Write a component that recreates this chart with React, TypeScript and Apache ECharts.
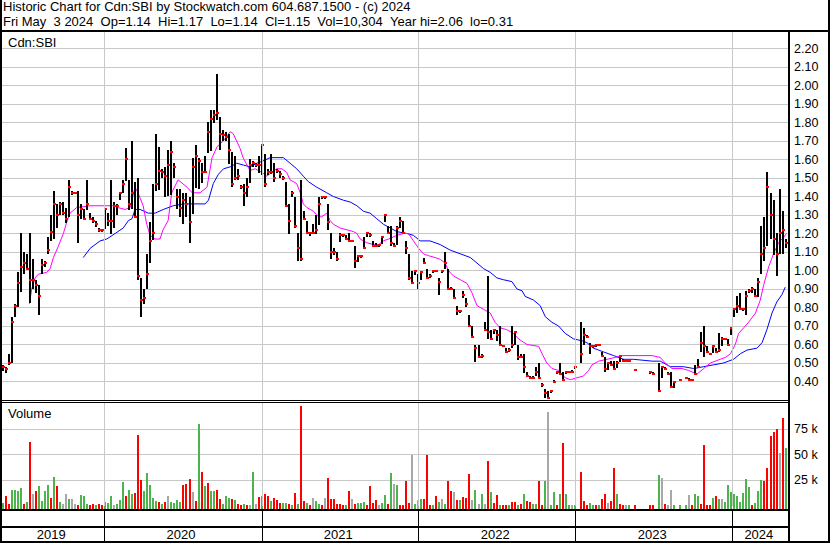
import React, { useEffect, useRef } from 'react';
import * as echarts from 'echarts';

const DAY = 86400000;
const FIRST_WEEK = Date.UTC(2019, 4, 10);
const X_MIN = Date.UTC(2019, 4, 8);
const X_MAX = Date.UTC(2024, 4, 11);

const headerLine1 = 'Historic Chart for Cdn:SBI by Stockwatch.com 604.687.1500 - (c) 2024';
const headerLine2 = 'Fri May  3 2024  Op=1.14  Hi=1.17  Lo=1.14  Cl=1.15  Vol=10,304  Year hi=2.06  lo=0.31';
const symbolLabel = 'Cdn:SBI';
const volumeLabel = 'Volume';

const yearStarts = [2020, 2021, 2022, 2023, 2024];
const yearLabels = ['2019', '2020', '2021', '2022', '2023', '2024'];

// weekly bars, week 0 = 2019-05-10 ... week 260 = 2024-05-03 (null = no trade)
const highs = [
  .49,.48,.55,.75,.82,.99,1.20,1.10,1.09,1.20,
  1.06,.95,.92,1.06,1.05,1.18,1.30,1.43,1.36,1.37,
  1.37,1.34,1.49,1.43,1.42,1.43,1.36,1.33,1.49,1.31,
  1.29,1.27,1.23,1.22,1.33,1.31,1.49,1.37,1.36,1.42,
  1.49,1.66,1.49,1.70,1.48,1.50,.96,.90,1.09,1.26,
  1.47,1.74,1.67,1.55,1.56,1.65,1.70,1.58,1.44,1.44,
  1.42,1.42,1.40,1.61,1.68,1.61,1.58,1.62,1.80,1.87,
  1.87,2.06,1.83,1.76,1.75,1.74,1.64,1.62,1.55,1.46,
  1.47,1.50,1.60,1.59,1.58,1.62,1.68,1.63,1.55,1.63,
  1.58,1.55,1.54,1.51,1.48,1.36,1.43,1.40,1.20,1.49,
  1.32,1.27,1.21,1.25,1.30,1.40,1.40,1.40,1.36,1.20,
  1.12,1.10,1.20,1.19,1.19,1.20,1.16,1.13,1.08,1.08,
  1.18,1.20,1.20,1.16,1.15,1.14,1.18,1.30,1.24,1.24,
  1.15,1.24,1.29,1.27,1.16,1.09,1.00,1.00,.98,1.00,
  1.07,1.01,.98,1.00,1.00,.96,1.00,1.10,1.01,.91,
  .90,.81,.78,.89,.85,.76,.70,.60,.60,.55,
  .72,.97,.68,.68,.68,.70,.60,.58,.58,.70,
  .67,.60,.55,.55,.45,.43,.43,.48,.50,.39,
  .36,.35,.35,.41,.45,.50,.45,.45,.45,.46,
  .48,null,.72,.69,.65,.61,.59,.60,.60,.56,
  .53,.50,.51,.51,.51,.54,.52,.51,.51,null,
  .47,null,null,null,null,.45,.45,null,.50,.48,
  .48,.45,.45,.40,null,.41,null,.42,.42,.41,
  .49,.52,.67,.70,.59,.55,.59,.58,.66,.64,
  .63,.63,.69,.80,.86,.88,.79,.89,.90,.91,
  .90,.96,1.24,1.29,1.53,1.42,1.38,1.20,1.44,1.32,
  1.17,
];
const lows = [
  .46,.45,.49,.50,.75,.80,.88,.98,1.01,.82,
  .90,.88,.76,.98,1.02,1.09,1.16,1.17,1.23,1.30,
  1.30,1.26,1.29,1.41,1.42,1.15,1.28,1.28,1.33,1.27,
  1.26,1.24,1.21,1.21,1.22,1.24,1.20,1.23,1.30,1.38,
  1.42,1.48,1.33,1.33,1.29,.95,.75,.82,.90,1.04,
  1.17,1.43,1.44,1.50,1.40,1.40,1.41,1.50,1.33,1.29,
  1.25,1.29,1.15,1.31,1.45,1.44,1.47,1.53,1.63,1.65,
  1.80,1.81,1.65,1.70,1.70,1.58,1.45,1.49,1.49,1.44,
  1.35,1.40,1.47,1.56,1.56,1.53,1.52,1.45,1.52,1.52,
  1.48,1.53,1.50,1.49,1.35,1.20,1.40,1.23,1.05,1.05,
  1.27,1.20,1.19,1.20,1.20,1.25,1.39,1.39,1.22,1.06,
  1.08,1.05,1.15,1.18,1.17,1.16,1.16,1.01,1.05,1.07,
  1.12,1.18,1.18,1.13,1.13,1.13,1.14,1.26,1.20,1.13,
  1.13,1.14,1.23,1.20,1.09,.95,.93,.98,.90,.95,
  1.04,.96,.96,.99,1.00,.87,.99,1.01,.90,.90,
  .85,.76,.77,.85,.80,.70,.64,.51,.53,.53,
  .68,.63,.63,.66,.62,.60,.59,.56,.56,.58,
  .60,.52,.53,.45,.43,.42,.42,.43,.42,.37,
  .31,.31,.34,.40,.44,.44,.40,.44,.45,.45,
  .47,null,.50,.60,.64,.55,.58,.59,.60,.54,
  .45,.46,.49,.46,.47,.51,.51,.51,.51,null,
  .46,null,null,null,null,.44,.44,null,.35,.42,
  .47,.44,.37,.37,null,.41,null,.42,.41,.41,
  .44,.48,.56,.53,.56,.55,.55,.56,.56,.59,
  .63,.60,.65,.75,.77,.79,.78,.76,.88,.88,
  .86,.86,.98,1.05,1.13,1.17,1.08,.97,1.09,1.09,
  1.12,
];
const closes = [
  .48,.47,.50,.72,.81,.93,1.02,1.04,1.01,.95,
  .95,.92,.86,1.03,1.04,1.11,1.21,1.36,1.30,1.36,
  1.31,1.28,1.45,1.42,1.42,1.30,1.33,1.28,1.36,1.28,
  1.27,1.25,1.22,1.22,1.33,1.27,1.27,1.35,1.35,1.42,
  1.47,1.60,1.36,1.42,1.29,.97,.84,.85,.98,1.16,
  1.20,1.47,1.54,1.53,1.51,1.57,1.64,1.56,1.40,1.34,
  1.38,1.36,1.26,1.56,1.62,1.59,1.53,1.53,1.75,1.82,
  1.84,1.85,1.74,1.73,1.72,1.65,1.47,1.50,1.51,1.45,
  1.42,1.45,1.57,1.58,1.57,1.57,1.68,1.47,1.53,1.53,
  1.50,1.54,1.52,1.50,1.35,1.27,1.42,1.24,1.12,1.06,
  1.28,1.20,1.20,1.20,1.22,1.36,1.40,1.40,1.26,1.10,
  1.10,1.06,1.19,1.19,1.17,1.16,1.16,1.05,1.08,1.08,
  1.12,1.20,1.19,1.13,1.13,1.14,1.18,1.30,1.20,1.15,
  1.13,1.23,1.27,1.20,1.12,.96,.93,1.00,.93,.99,
  1.04,.96,.97,1.00,1.00,.94,1.00,1.04,.90,.90,
  .85,.78,.78,.87,.82,.70,.64,.58,.53,.54,
  .68,.67,.63,.68,.65,.60,.59,.56,.57,.60,
  .67,.53,.53,.48,.43,.42,.42,.45,.42,.38,
  .34,.31,.35,.40,.45,.44,.41,.45,.45,.45,
  .48,null,.55,.65,.64,.59,.59,.60,.60,.54,
  .47,.50,.49,.47,.50,.54,.51,.51,.51,null,
  .46,null,null,null,null,.45,.44,null,.35,.48,
  .47,.44,.37,.40,null,.41,null,.42,.41,.41,
  .44,.48,.61,.59,.56,.55,.59,.56,.57,.63,
  .63,.60,.69,.79,.81,.79,.79,.86,.89,.90,
  .86,.94,1.09,1.12,1.45,1.30,1.17,1.09,1.20,1.22,
  1.15,
];
// weekly volume in thousands, direction g = up, r = down, n = unchanged
const volumesK = [
  3,10,2,16,16,15,17,2,4,62,
  12,15,19,5,15,20,8,28,19,4,
  2,12,7,7,2,1,11,10,2,1,
  2,1,2,1,4,3,10,1,2,6,
  23,10,16,12,13,69,25,15,32,20,
  8,5,4,2,4,10,4,3,6,4,
  20,21,26,14,5,80,33,19,22,15,
  15,16,7,2,10,8,7,6,2,1,
  2,1,1,33,2,9,10,12,10,5,
  8,6,3,3,3,2,1,13,2,97,
  5,3,1,8,5,2,1,8,27,7,
  7,2,2,1,1,15,7,2,3,3,
  4,1,19,3,6,1,3,11,2,32,
  21,20,1,1,24,3,50,2,6,7,
  7,50,1,1,10,4,7,2,24,15,
  14,6,6,9,8,31,6,16,2,12,
  2,44,14,3,11,1,1,1,1,4,
  4,1,2,12,5,4,2,2,24,1,
  24,91,1,14,1,12,61,12,1,1,
  1,0,33,5,1,3,1,1,1,7,
  12,3,5,37,12,2,1,1,1,0,
  1,0,0,0,0,1,1,0,30,27,
  2,1,16,1,0,1,0,1,11,1,
  12,10,2,59,1,1,8,10,7,7,
  4,20,14,12,10,4,13,26,18,1,
  3,15,25,24,37,68,72,75,51,85,
  56,
];
const volumeDirs =
  'grrggggrgr' + 'nrggggrgrg' + 'nngnnrgggr' + 'rgrrgggngg' + 'grggrrrggg' +
  'ggrgrngggg' + 'rrrnrgrgrg' + 'grrgggrgrr' + 'grngnrgrrg' + 'rrrggrgrgr' +
  'rgrnggrnrr' + 'rrrrgrnrgg' + 'grrrrnggrg' + 'ngrrrrngng' + 'rrrgrgngrr' +
  'nrgrrrngng' + 'nrgrrgrrgr' + 'rgrgrrggrr' + 'gnggrgrggn' + 'gnrrrggrgr' +
  'rnrrgrrngn' + 'rnnnnrrngn' + 'rnngngngnr' + 'ggrrrrgrgn' + 'gggggggggr' +
  'gggrrrrrnr' + 'g';

// moving averages: [week, price]
const maShort = [
  [8.8,.82],[9.6,.90],[10.7,.96],[11.8,.98],[14.6,.99],[15.7,1.01],[16.8,1.07],[18.4,1.13],[20.1,1.20],[21.2,1.26],
  [22.3,1.31],[24.5,1.34],[29,1.35],[32.3,1.35],[35.6,1.35],[37.3,1.35],[38.3,1.34],[40.6,1.33],[42.3,1.34],[43.9,1.45],
  [44.9,1.42],[46.6,1.35],[47.8,1.25],[48.9,1.19],[50.6,1.17],[52.2,1.17],[53.2,1.22],[54.9,1.27],[56.1,1.42],[58.2,1.49],
  [61.2,1.45],[62.9,1.42],[65.5,1.42],[67.8,1.45],[69.5,1.61],[71.2,1.67],[73.2,1.70],[75.5,1.75],[76.5,1.74],[78.8,1.66],
  [79.8,1.61],[82.1,1.54],[83.8,1.55],[86.1,1.53],[87.7,1.51],[89.3,1.53],[91,1.55],[92.7,1.55],[94.3,1.53],[95.4,1.49],
  [97.6,1.47],[98.8,1.42],[99.8,1.36],[101,1.34],[103.2,1.32],[104.8,1.29],[105.9,1.29],[107.6,1.31],[108.7,1.27],[109.8,1.25],
  [112,1.23],[114.3,1.22],[116.5,1.21],[117.6,1.20],[118.7,1.17],[120.9,1.15],[123.1,1.14],[124.8,1.14],[126.4,1.16],[128.1,1.17],
  [130.9,1.19],[133.1,1.20],[134.7,1.20],[136.4,1.16],[138.1,1.12],[139.7,1.09],[141.4,1.08],[143.6,1.07],[145.3,1.06],[146.9,1.04],
  [148,1.00],[149.7,.97],[152,.95],[154.2,.93],[155.8,.88],[157.5,.81],[159.7,.79],[161.9,.77],[163.5,.72],[165.2,.69],
  [167.4,.68],[169.6,.66],[171.3,.63],[174.1,.60],[178,.59],[179.1,.55],[180.7,.50],[182.4,.47],[184.6,.46],[186.8,.42],
  [188.5,.41],[190.7,.42],[192.9,.43],[194.6,.46],[195.7,.49],[197.9,.51],[200.7,.52],[203.4,.53],[205.7,.54],[215.7,.54],
  [218.4,.53],[220,.50],[222.3,.47],[225.6,.47],[227.8,.46],[230.6,.44],[232.8,.47],[235,.50],[238.3,.52],[240,.53],
  [241.7,.55],[243.3,.60],[244.4,.66],[246.1,.69],[247.7,.72],[250,.77],[251.6,.84],[252.7,.92],[254.4,1.02],[256,1.09],
  [257.7,1.15],[259.4,1.18],[260.3,1.20],
];
const maLong = [
  [26.7,1.07],[29,1.12],[32.3,1.16],[34.5,1.17],[37.3,1.20],[40,1.23],[41.7,1.27],[42.9,1.28],[43.9,1.33],[45.6,1.33],
  [48.3,1.31],[50.6,1.31],[53.3,1.33],[56.6,1.35],[60,1.36],[67.2,1.36],[68.3,1.38],[69.9,1.47],[71.6,1.52],[73.3,1.55],
  [75.5,1.56],[77.7,1.58],[79.9,1.57],[82.1,1.56],[84.4,1.58],[86.1,1.59],[88.8,1.61],[93.2,1.61],[95.4,1.58],[97.6,1.55],
  [99.8,1.51],[101.5,1.48],[104.3,1.45],[107.6,1.42],[109.8,1.40],[113.1,1.38],[115.4,1.37],[117.6,1.35],[119.8,1.32],[122,1.31],
  [124.2,1.28],[126.4,1.25],[128.7,1.23],[130.9,1.21],[134.2,1.20],[136.4,1.19],[138.6,1.16],[141.9,1.16],[145.3,1.14],[148.6,1.11],
  [152,1.09],[155.3,1.07],[157.5,1.04],[159.7,1.01],[161.9,.99],[164.1,.96],[166.3,.95],[169.1,.94],[170.8,.90],[172.5,.89],
  [173.5,.86],[176.3,.84],[178.5,.81],[180.2,.75],[182.4,.72],[184.6,.70],[186.8,.66],[189.6,.63],[192.4,.62],[194,.61],
  [196.2,.58],[199.5,.56],[202.9,.54],[206.2,.52],[209.5,.52],[215.7,.51],[218.4,.51],[221.7,.48],[226.1,.48],[229.5,.47],
  [232.8,.48],[236.1,.49],[239.4,.50],[242.7,.52],[245,.55],[247.2,.57],[250.5,.58],[252.2,.61],[253.8,.68],[255.5,.77],
  [257.1,.83],[258.8,.87],[259.9,.91],
];

const FONT = '"Liberation Sans", Arial, sans-serif';
const GRID_LINE = '#c8c8c8';
const DIR_COLORS: Record<string, string> = { g: '#4db34d', r: '#ff0000', n: '#a8a8a8' };

const weekTime = (w: number) => FIRST_WEEK + w * 7 * DAY;
// keep the runs of spaces visible in SVG text
const keepSpaces = (s: string) => s.replace(/ {2}/g, '\u00a0\u00a0');

export default function App() {
  const ref = useRef<HTMLDivElement>(null);
  useEffect(() => {
    if (!ref.current) return;
    const chart = echarts.init(ref.current, undefined, { renderer: 'svg' });

    const priceData: number[][] = [];
    highs.forEach((h, i) => {
      if (h == null || lows[i] == null || closes[i] == null) return;
      priceData.push([weekTime(i), h as number, lows[i] as number, closes[i] as number]);
    });
    const volData: any[] = [];
    volumesK.forEach((v, i) => {
      if (!v) return;
      volData.push({ value: [weekTime(i), v], itemStyle: { color: DIR_COLORS[volumeDirs[i]] || DIR_COLORS.n } });
    });
    const yearTs = yearStarts.map((y) => Date.UTC(y, 0, 1));
    const bounds = [X_MIN, ...yearTs, X_MAX];
    const yearLabelData = yearLabels.map((lab, i) => [(bounds[i] + bounds[i + 1]) / 2, 0.22, i]);

    const vLines = (color: string) => ({
      silent: true,
      symbol: ['none', 'none'],
      label: { show: false },
      emphasis: { disabled: true },
      animation: false,
      lineStyle: { color, type: 'solid', width: 1 },
      data: yearTs.map((t) => ({ xAxis: t })),
    });

    const xAxisBase = (gridIndex: number) => ({
      type: 'value', gridIndex, min: X_MIN, max: X_MAX, show: false,
    });

    const frame = (x: number, y: number, w: number, h: number) => ({
      type: 'rect', z: 100, silent: true, shape: { x, y, width: w, height: h }, style: { fill: '#000' },
    });
    const txt = (text: string, x: number, y: number, size: number) => ({
      type: 'text', z: 100, silent: true, x, y,
      style: { text, fill: '#000', font: `${size}px ${FONT}`, verticalAlign: 'middle', align: 'left' },
    });

    chart.setOption({
      animation: false,
      backgroundColor: '#ffffff',
      grid: [
        { left: 2, top: 30, width: 787, height: 370 },
        { left: 2, top: 403, width: 787, height: 103 },
        { left: 2, top: 511, width: 787, height: 30 },
      ],
      xAxis: [xAxisBase(0), xAxisBase(1), xAxisBase(2)],
      yAxis: [
        {
          type: 'value', gridIndex: 0, min: 0.3, max: 2.3, interval: 0.1, position: 'right',
          axisLine: { show: false }, axisTick: { show: false },
          axisLabel: {
            margin: 5, color: '#000', fontSize: 12.5, fontFamily: FONT,
            formatter: (v: number) => (v > 0.35 && v < 2.25 ? v.toFixed(2) : ''),
          },
          splitLine: { show: true, showMinLine: false, lineStyle: { color: GRID_LINE, width: 1 } },
        },
        {
          type: 'value', gridIndex: 1, min: 0, max: 100, interval: 25, position: 'right',
          axisLine: { show: false }, axisTick: { show: false },
          axisLabel: {
            margin: 5, color: '#000', fontSize: 12.5, fontFamily: FONT,
            formatter: (v: number) => (v > 0 && v < 100 ? `${v} k` : ''),
          },
          splitLine: { show: true, showMinLine: false, showMaxLine: false, lineStyle: { color: GRID_LINE, width: 1 } },
        },
        { type: 'value', gridIndex: 2, min: 0, max: 1, show: false },
      ],
      series: [
        { type: 'line', xAxisIndex: 0, yAxisIndex: 0, data: [], z: 1, markLine: vLines(GRID_LINE) },
        { type: 'line', xAxisIndex: 1, yAxisIndex: 1, data: [], z: 1, markLine: vLines(GRID_LINE) },
        { type: 'line', xAxisIndex: 2, yAxisIndex: 2, data: [], z: 1, markLine: vLines('#000') },
        {
          type: 'line', name: 'MA long', xAxisIndex: 0, yAxisIndex: 0, z: 2,
          data: maLong.map(([w, v]) => [weekTime(w), v]),
          showSymbol: false, symbol: 'none', lineStyle: { color: '#0000ff', width: 1 }, silent: true,
        },
        {
          type: 'line', name: 'MA short', xAxisIndex: 0, yAxisIndex: 0, z: 2,
          data: maShort.map(([w, v]) => [weekTime(w), v]),
          showSymbol: false, symbol: 'none', lineStyle: { color: '#ff00ff', width: 1 }, silent: true,
        },
        {
          type: 'custom', name: 'Price', xAxisIndex: 0, yAxisIndex: 0, z: 3, silent: true,
          encode: { x: 0, y: [1, 2, 3] },
          data: priceData,
          renderItem: (params: any, api: any) => {
            const t = api.value(0);
            const top = api.coord([t, api.value(1)]);
            const bot = api.coord([t, api.value(2)]);
            const cl = api.coord([t, api.value(3)]);
            const px = Math.round(top[0]);
            const children: any[] = [];
            if (bot[1] - top[1] >= 1.5) {
              children.push({ type: 'rect', shape: { x: px - 1, y: Math.round(top[1]), width: 2, height: Math.round(bot[1] - top[1]) }, style: { fill: '#000' } });
            }
            children.push({ type: 'rect', shape: { x: px - 1, y: Math.round(cl[1]) - 1, width: 3, height: 2 }, style: { fill: '#ff0000' } });
            return { type: 'group', children };
          },
        },
        {
          type: 'custom', name: 'Volume', xAxisIndex: 1, yAxisIndex: 1, z: 3, silent: true,
          encode: { x: 0, y: 1 },
          data: volData,
          renderItem: (params: any, api: any) => {
            const t = api.value(0);
            const p = api.coord([t, api.value(1)]);
            const base = api.coord([t, 0]);
            const px = Math.round(p[0]);
            return {
              type: 'rect',
              shape: { x: px - 1, y: Math.round(p[1]), width: 2, height: Math.round(base[1] + 3 - p[1]) },
              style: { fill: api.visual('color') },
            };
          },
        },
        {
          type: 'custom', name: 'Years', xAxisIndex: 2, yAxisIndex: 2, z: 3, silent: true,
          encode: { x: 0, y: 1 },
          data: yearLabelData,
          renderItem: (params: any, api: any) => {
            const p = api.coord([api.value(0), api.value(1)]);
            return {
              type: 'text', x: p[0] - 2, y: p[1],
              style: { text: yearLabels[api.value(2)], fill: '#000', font: `13px ${FONT}`, align: 'center', verticalAlign: 'middle' },
            };
          },
        },
      ],
      graphic: [
        frame(0, 0, 2, 543),
        frame(0, 30, 830, 2),
        frame(788, 30, 2, 513),
        frame(828, 0, 2, 543),
        frame(0, 400, 790, 1),
        frame(0, 402, 790, 1),
        frame(0, 509, 790, 2),
        frame(0, 526, 790, 2),
        frame(0, 541, 830, 2),
        txt(headerLine1, 3, 6, 13),
        txt(keepSpaces(headerLine2), 3, 21, 13),
        txt(symbolLabel, 8, 42, 13),
        txt(volumeLabel, 8, 413, 13),
      ],
    });
    return () => chart.dispose();
  }, []);
  return <div ref={ref} style={{ position: 'absolute', left: 0, top: 0, width: 830, height: 543 }} />;
}
